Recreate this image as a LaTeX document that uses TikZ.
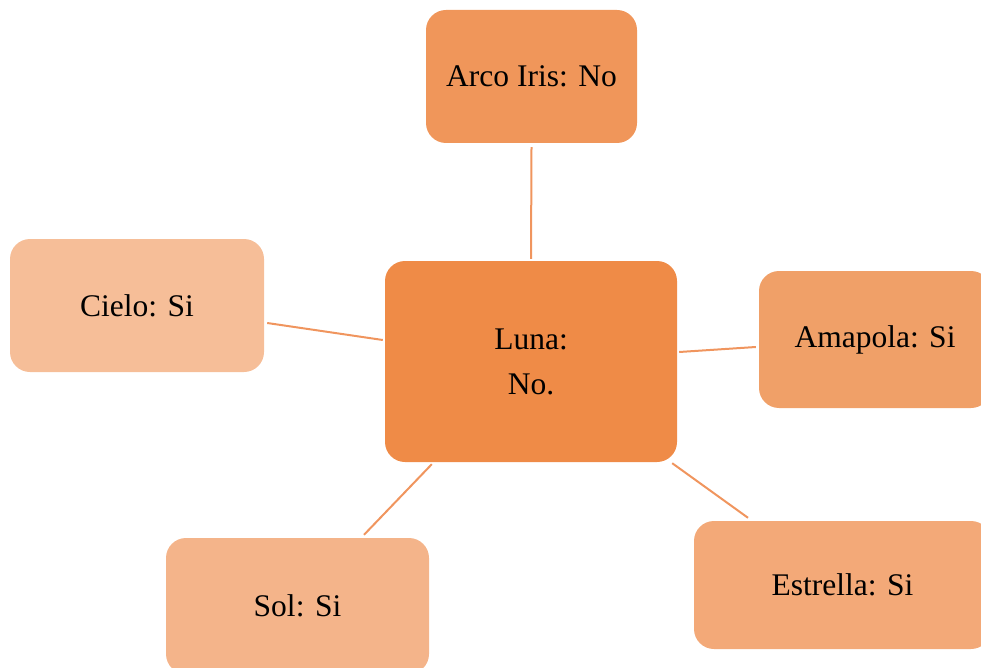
\documentclass[tikz,border=0pt]{standalone}
\usepackage{fontspec}
\setmainfont{Liberation Serif}
\definecolor{cArco}{HTML}{F0965A}
\definecolor{cLuna}{HTML}{EF8B47}
\definecolor{cCielo}{HTML}{F6BE98}
\definecolor{cAma}{HTML}{F0A068}
\definecolor{cEst}{HTML}{F3A978}
\definecolor{cSol}{HTML}{F4B48A}
\definecolor{cLine}{HTML}{F0955E}
\begin{document}
\begin{tikzpicture}[x=1pt,y=-1pt,
  box/.style={rounded corners=20pt, inner sep=0pt, align=center,
    font=\fontsize{31.5}{45}\selectfont, text=black},
  link/.style={draw=cLine, line width=2pt}]
\useasboundingbox (0,0) rectangle (981,668);
\node[box, fill=cArco, minimum width=211pt, minimum height=133pt] (arco) at (531.5,76.5) {Arco Iris: No};
\node[box, fill=cLuna, minimum width=292pt, minimum height=201pt] (luna) at (531,361.5) {Luna:\\No.};
\node[box, fill=cCielo, minimum width=254pt, minimum height=133pt] (cielo) at (137,305.5) {Cielo: Si};
\node[box, fill=cAma, minimum width=232pt, minimum height=137pt] (ama) at (875,339.5) {Amapola: Si};
\node[box, fill=cEst, minimum width=297pt, minimum height=128pt] (est) at (842.5,585) {Estrella: Si};
\node[box, fill=cSol, minimum width=263pt, minimum height=136pt] (sol) at (297.5,606) {Sol: Si};
\draw[link] ([yshift=-4pt]arco.south) -- ([yshift=2pt]luna.north);
\draw[link] ([xshift=3pt,yshift=-17.5pt]cielo.east) -- ([xshift=-2pt,yshift=21.5pt]luna.west);
\draw[link] ([xshift=2pt,yshift=9.5pt]luna.east) -- ([xshift=-3pt,yshift=-7.5pt]ama.west);
\draw[link] ([xshift=-5pt,yshift=-1pt]luna.south east) -- ([xshift=-94.5pt,yshift=3pt]est.north);
\draw[link] ([xshift=47pt,yshift=-2pt]luna.south west) -- ([xshift=66.5pt,yshift=3pt]sol.north);
\end{tikzpicture}
\end{document}
